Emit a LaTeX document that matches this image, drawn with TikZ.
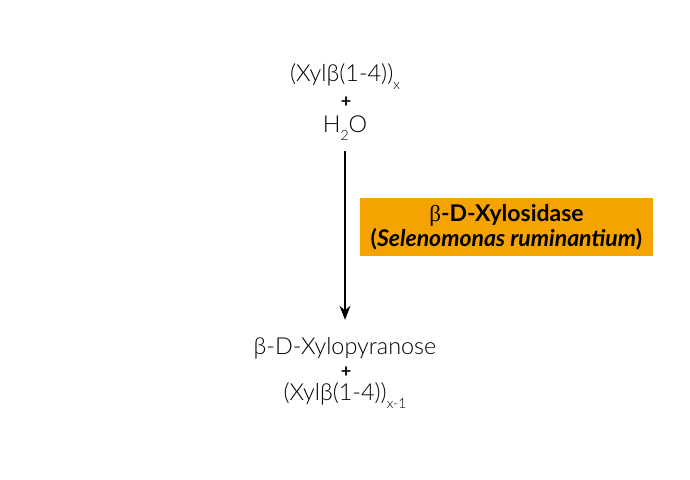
\documentclass[tikz,border=0pt]{standalone}
\usepackage{fontspec}
\setmainfont{Lato}[UprightFont=* Light, ItalicFont=* Light Italic, BoldFont=* Bold, BoldItalicFont=* Bold Italic]
\newfontfamily\symbfont{Liberation Serif}
\usetikzlibrary{arrows.meta}
\definecolor{enzorange}{HTML}{F5A300}
\newcommand{\lowsub}[1]{\raisebox{-4pt}{\fontsize{7}{8}\selectfont #1}}
\tikzset{
    chem/.style = {font=\fontsize{11.7}{14}\selectfont, inner sep=0pt},
    plus/.style = {font=\fontsize{9}{10}\selectfont\bfseries, inner sep=0pt},
    enzyme/.style = {fill=enzorange, minimum width=146.5pt, minimum height=29pt,
        align=center, font=\fontsize{11.5}{12.5}\selectfont\bfseries, inner sep=0pt},
    reaction/.style = {line width=1pt, -{Stealth[length=7pt, width=5.5pt]}}
}
\begin{document}
\begin{tikzpicture}[x=0.5pt, y=-0.5pt]
    \useasboundingbox (0,0) rectangle (690,480);

    % substrates
    \node[chem] (xylan) at (345,77) {(Xylβ(1-4))\lowsub{x}};
    \node[plus] (plusA) at (346,102) {+};
    \node[chem] (water) at (345,128) {H\lowsub{2}O};

    % products
    \node[chem] (xylp) at (345,348) {β-D-Xylopyranose};
    \node[plus] (plusB) at (346,372) {+};
    \node[chem] (xylanB) at (345,396) {(Xylβ(1-4))\lowsub{x-1}};

    % enzyme
    \node[enzyme] (enz) at (506.5,227) {{\symbfont\mdseries β}-D-Xylosidase\\(\textit{Selenomonas ruminantium})};

    \draw[reaction, shorten <=5pt, shorten >=8.5pt] (water.south) -- (water.south |- xylp.north);

\end{tikzpicture}
\end{document}
